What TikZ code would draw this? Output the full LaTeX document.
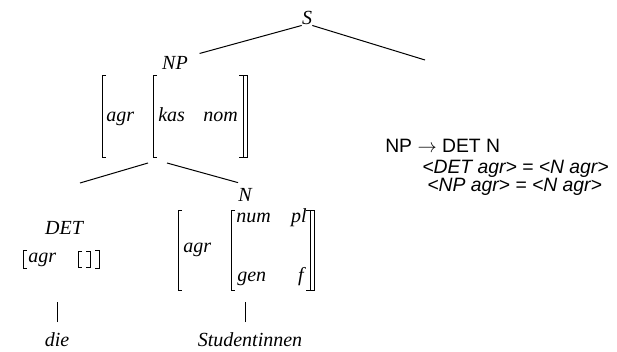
\documentclass[tikz,border=0pt]{standalone}
\usepackage{fontspec}
\setmainfont{Liberation Serif}
\newfontfamily\rulefont{Liberation Sans}
\begin{document}
\begin{tikzpicture}[x=0.75pt,y=-0.75pt,
    cat/.style={font=\fontsize{15}{18}\selectfont\itshape,inner sep=0pt,anchor=base},
    feat/.style={cat,anchor=base west},
    brk/.style={line width=0.7pt},
    branch/.style={line width=0.75pt},
    rule/.style={font=\rulefont\fontsize{14.5}{17}\selectfont,inner sep=0pt,anchor=base west}]
        \useasboundingbox (0,0) rectangle (617,352);

        % tree labels
        \node[cat] (S) at (307,25) {S};
        \node[cat] (NP) at (175,70) {NP};
        \node[cat] (DET) at (64,235) {DET};
        \node[cat] (N) at (245,202) {N};
        \node[cat] (die) at (57,347) {die};
        \node[cat] (stud) at (250,347) {Studentinnen};

        \coordinate (rest) at (425,60);
        \coordinate (np-l) at (148,163);
        \coordinate (np-r) at (167,163);
        \coordinate (det-top) at (80,183);

        \draw[branch,shorten >=9pt] (S.south west) -- (NP.north east);
        \draw[branch] (S.south east) -- (rest);
        \draw[branch] (np-l) -- (det-top);
        \draw[branch] (np-r) -- ([yshift=4.5pt]N.north west);
        \draw[branch] ([yshift=8pt]die.north) -- ++(0,-20);
        \draw[branch] ([yshift=8pt]stud.north -| N) -- ++(0,-20);

        % NP: [agr [kas nom]]
        \draw[brk] (106,75) -| (102,157) -- (106,157);
        \node[feat] (np-agr) at (106,122) {agr};
        \draw[brk] (157,75) -| (153,157) -- (157,157);
        \node[feat] (np-kas) at (158,122) {kas};
        \node[feat] (np-nom) at (203,122) {nom};
        \draw[brk] (239,75) -| (243,157) -- (239,157);
        \draw[brk] (243,75) -| (247,157) -- (243,157);

        % DET: [agr [ ]]
        \draw[brk] (27,250) -| (23,268) -- (27,268);
        \node[feat] (det-agr) at (28,263) {agr};
        \draw[brk] (82,251) -| (78,267) -- (82,267);
        \draw[brk] (86,251) -| (90,267) -- (86,267);
        \draw[brk] (95,250) -| (99,268) -- (95,268);

        % N: [agr [num pl, gen f]]
        \draw[brk] (182,210) -| (178,290) -- (182,290);
        \node[feat] (n-agr) at (183,253) {agr};
        \draw[brk] (235,210) -| (231,290) -- (235,290);
        \node[feat] (n-num) at (236,223) {num};
        \node[cat,anchor=base east] (n-pl) at (307,223) {pl};
        \node[feat] (n-gen) at (237,282) {gen};
        \node[cat,anchor=base east] (n-f) at (304,282) {f};
        \draw[brk] (306,210) -| (310,290) -- (306,290);
        \draw[brk] (310,210) -| (314,290) -- (310,290);

        % rule
        \node[rule] (r1) at (385,153) {NP $\rightarrow$ DET N};
        \node[rule] (r2) at (422,174) {\itshape <DET agr> = <N agr>};
        \node[rule] (r3) at (427,192) {\itshape <NP agr> = <N agr>};

    \end{tikzpicture}
\end{document}
